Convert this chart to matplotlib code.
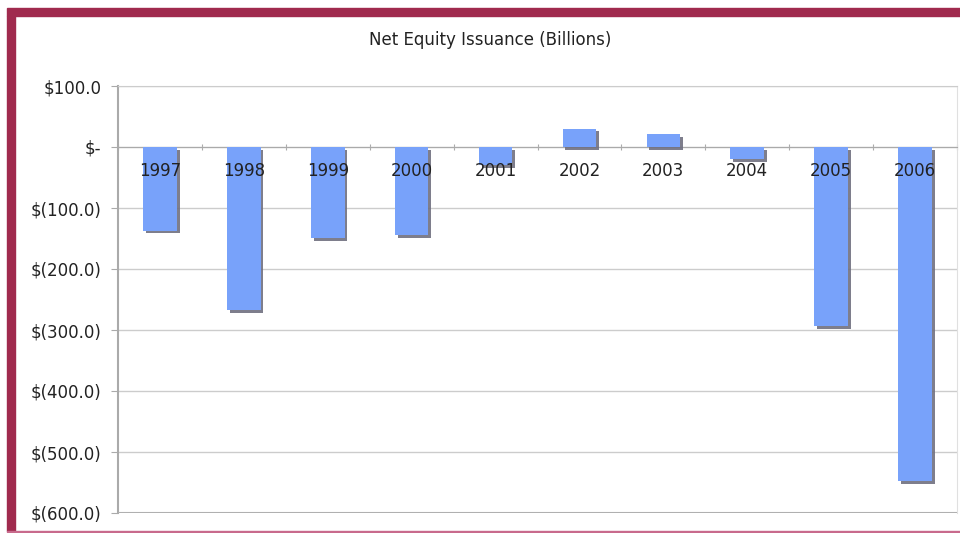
import numpy as np
import matplotlib
matplotlib.use("Agg")
import matplotlib.pyplot as plt
import matplotlib.patheffects as pe
from matplotlib.patches import Rectangle

years = ['1997', '1998', '1999', '2000', '2001', '2002', '2003', '2004', '2005', '2006']
issuance = [-137, -267, -149, -145, -30, 30, 21, -20, -294, -548]
yticks = [100, 0, -100, -200, -300, -400, -500, -600]


def money(v):
    # excel accounting style labels
    if v == 0:
        return '$-'
    if v < 0:
        return '$(%.1f)' % abs(v)
    return '$%.1f' % v


fig = plt.figure(figsize=(9.6, 5.33), dpi=100)
fig.patch.set_facecolor('white')

# maroon frame round the chart
W, H = 960, 533
fig.patches.append(Rectangle((7 / W, 1 - 16 / H), 1 - 7 / W, 8 / H,
                             transform=fig.transFigure, color='#A02A4E', zorder=0))
fig.patches.append(Rectangle((7 / W, 2 / H), 8 / W, 1 - 18 / H,
                             transform=fig.transFigure, color='#A02A4E', zorder=0))
fig.patches.append(Rectangle((7 / W, 1 / H), 1 - 7 / W, 1.5 / H,
                             transform=fig.transFigure, color='#C86A8C', zorder=0))

ax = fig.add_axes([118 / W, 1 - 513 / H, (957 - 118) / W, (513 - 86) / H])
x = np.arange(len(years))
ax.bar(x, issuance, width=0.4, color='#78A2FA', zorder=3,
       path_effects=[pe.SimplePatchShadow(offset=(2, -2), shadow_rgbFace='#707080', alpha=0.9),
                     pe.Normal()])

ax.set_xlim(-0.5, len(years) - 0.5)
ax.set_ylim(-600, 100)
ax.set_yticks(yticks)
ax.set_yticklabels([money(v) for v in yticks], fontsize=12, color='#222222')
ax.yaxis.grid(True, color='#cccccc', linewidth=1, zorder=0)
ax.tick_params(axis='y', length=5, color='#aaaaaa', pad=7)

# category axis sits on the zero line
ax.spines['bottom'].set_position(('data', 0))
ax.spines['bottom'].set_color('#aaaaaa')
ax.set_xticks(np.arange(len(years) + 1) - 0.5, minor=False)
ax.set_xticklabels([])
ax.tick_params(axis='x', length=4, direction='inout', color='#aaaaaa')
for xi, yr in zip(x, years):
    ax.text(xi, -40, yr, ha='center', va='center', fontsize=12, color='#222222', zorder=5)

ax.spines['left'].set_color('#aaaaaa')
ax.spines['left'].set_linewidth(1.5)
ax.spines['top'].set_color('#cccccc')
ax.spines['right'].set_color('#e0e0e0')

fig.text((369 + 612) / 2 / W, 1 - 40 / H, 'Net Equity Issuance (Billions)',
         ha='center', va='center', fontsize=12, color='#222222')

# bottom edge of the plot area
ax.axhline(-600, color='#b0b0b0', linewidth=1.5, zorder=4)

fig.savefig('out.png', dpi=100)
